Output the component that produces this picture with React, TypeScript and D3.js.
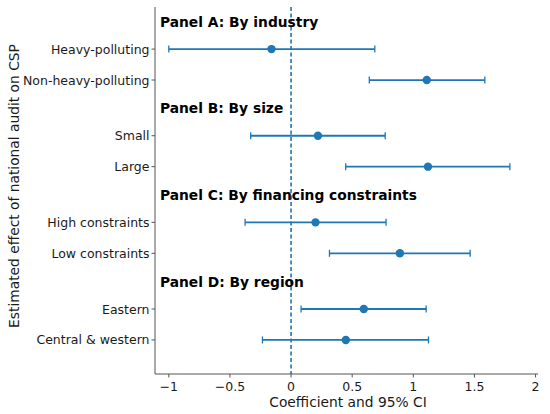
import * as d3 from "d3";

const WIDTH = 550;
const HEIGHT = 414;
const MARGIN = { top: 7, right: 12, bottom: 40, left: 155 };
const BLUE = "#1f77b4";
const FONT = "DejaVu Sans, sans-serif";

// panel headers and the two rows under each one
const panels = [
  "Panel A: By industry",
  "Panel B: By size",
  "Panel C: By financing constraints",
  "Panel D: By region",
];
const labels = [
  ["Heavy-polluting", "Non-heavy-polluting"],
  ["Small", "Large"],
  ["High constraints", "Low constraints"],
  ["Eastern", "Central & western"],
];
const coef = [
  [-0.16, 1.11],
  [0.22, 1.12],
  [0.2, 0.89],
  [0.595, 0.448],
];
const ciLow = [
  [-1.0, 0.64],
  [-0.33, 0.447],
  [-0.376, 0.314],
  [0.082, -0.234],
];
const ciHigh = [
  [0.685, 1.585],
  [0.77, 1.79],
  [0.777, 1.465],
  [1.105, 1.124],
];
const xTicks = [-1, -0.5, 0, 0.5, 1, 1.5, 2];

const GROUP_STEP = 2.8;
const HEADER_OFFSET = -0.88;

const fmt = (v: number) => (v < 0 ? "\u2212" + String(-v) : String(v));

export default function App() {
  const boundsWidth = WIDTH - MARGIN.left - MARGIN.right;
  const bottom = 374;

  const xScale = d3.scaleLinear().domain([-1.113, 2.02]).range([MARGIN.left, MARGIN.left + boundsWidth]);
  const yScale = d3.scaleLinear().domain([-1.36, 10.5]).range([MARGIN.top, bottom]);

  const rows = labels.flatMap((grp, g) =>
    grp.map((name, i) => ({
      name,
      pos: g * GROUP_STEP + i,
      est: coef[g][i],
      lo: ciLow[g][i],
      hi: ciHigh[g][i],
    }))
  );

  return (
    <svg width={WIDTH} height={HEIGHT} style={{ display: "block", position: "absolute", left: 0, top: 0 }} fontFamily={FONT}>
      <rect width={WIDTH} height={HEIGHT} fill="#fff" />

      {/* zero reference line */}
      <line
        x1={xScale(0)}
        x2={xScale(0)}
        y1={MARGIN.top}
        y2={bottom}
        stroke={BLUE}
        strokeWidth={1.6}
        strokeDasharray="4,2.5"
      />

      {/* error bars */}
      {rows.map((r) => {
        const y = yScale(r.pos);
        return (
          <g key={r.name}>
            <line x1={xScale(r.lo)} x2={xScale(r.hi)} y1={y} y2={y} stroke={BLUE} strokeWidth={1.8} />
            <line x1={xScale(r.lo)} x2={xScale(r.lo)} y1={y - 3.5} y2={y + 3.5} stroke={BLUE} strokeWidth={1.3} />
            <line x1={xScale(r.hi)} x2={xScale(r.hi)} y1={y - 3.5} y2={y + 3.5} stroke={BLUE} strokeWidth={1.3} />
            <circle cx={xScale(r.est)} cy={y} r={4.2} fill={BLUE} />
          </g>
        );
      })}

      {/* panel headers */}
      {panels.map((p, g) => (
        <text
          key={p}
          x={MARGIN.left + 5}
          y={yScale(g * GROUP_STEP + HEADER_OFFSET)}
          dy="0.36em"
          fontSize={13.8}
          fontWeight="bold"
          fill="#000"
        >
          {p}
        </text>
      ))}

      {/* spines */}
      <line x1={MARGIN.left} x2={MARGIN.left} y1={MARGIN.top} y2={bottom} stroke="#555" strokeWidth={1} />
      <line x1={MARGIN.left} x2={xScale(2.02)} y1={bottom} y2={bottom} stroke="#555" strokeWidth={1} />

      {/* y ticks */}
      {rows.map((r) => (
        <g key={"t" + r.name}>
          <line x1={MARGIN.left - 3.5} x2={MARGIN.left} y1={yScale(r.pos)} y2={yScale(r.pos)} stroke="#555" strokeWidth={1} />
          <text x={MARGIN.left - 5.5} y={yScale(r.pos)} dy="0.36em" textAnchor="end" fontSize={12.5} fill="#1a1a1a">
            {r.name}
          </text>
        </g>
      ))}

      {/* x ticks */}
      {xTicks.map((t) => (
        <g key={"x" + t}>
          <line x1={xScale(t)} x2={xScale(t)} y1={bottom} y2={bottom + 3.5} stroke="#555" strokeWidth={1} />
          <text x={xScale(t)} y={390.5} textAnchor="middle" fontSize={12.5} fill="#1a1a1a">
            {fmt(t)}
          </text>
        </g>
      ))}

      <text x={348} y={406.5} textAnchor="middle" fontSize={13.8} fill="#1a1a1a">
        Coefficient and 95% CI
      </text>
      <text
        transform="translate(14,186) rotate(-90)"
        textAnchor="middle"
        dy="0.36em"
        fontSize={13.8}
        fill="#1a1a1a"
      >
        Estimated effect of national audit on CSP
      </text>
    </svg>
  );
}
